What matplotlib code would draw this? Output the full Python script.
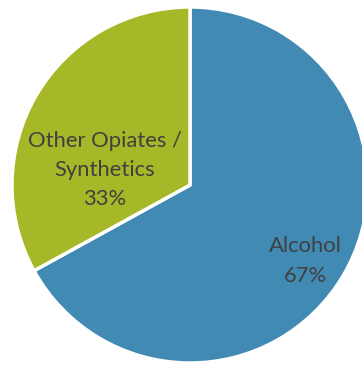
import matplotlib.pyplot as plt

# data
categories = ["Alcohol", "Other Opiates /\nSynthetics"]
shares = [67, 33]
colors = ["#418AB3", "#A6B727"]

# label spots (pixel coords, y measured from the top)
label_xy = [(305, 261), (105, 170)]

fig = plt.figure(figsize=(3.62, 3.65), dpi=100)
ax = fig.add_axes([0, 0, 1, 1])

# y axis runs downward, so start at -90 to begin at the top and go clockwise
wedges, texts = ax.pie(shares, colors=colors, startangle=-90, counterclock=True,
                       center=(190, 185), radius=178,
                       labels=[f"{c}\n{s}%" for c, s in zip(categories, shares)],
                       wedgeprops=dict(edgecolor="white", linewidth=2.5),
                       frame=True)
ax.set_xlim(0, 362)
ax.set_ylim(365, 0)
ax.set_aspect("equal")
ax.axis("off")

for t, (x, y) in zip(texts, label_xy):
    t.set_position((x, y))
    t.set_ha("center")
    t.set_va("center")
    t.set_fontsize(15.8)
    t.set_color("#404040")
    t.set_family(["Lato", "DejaVu Sans"])
    t.set_linespacing(1.58)

fig.savefig("out.png", dpi=100)
